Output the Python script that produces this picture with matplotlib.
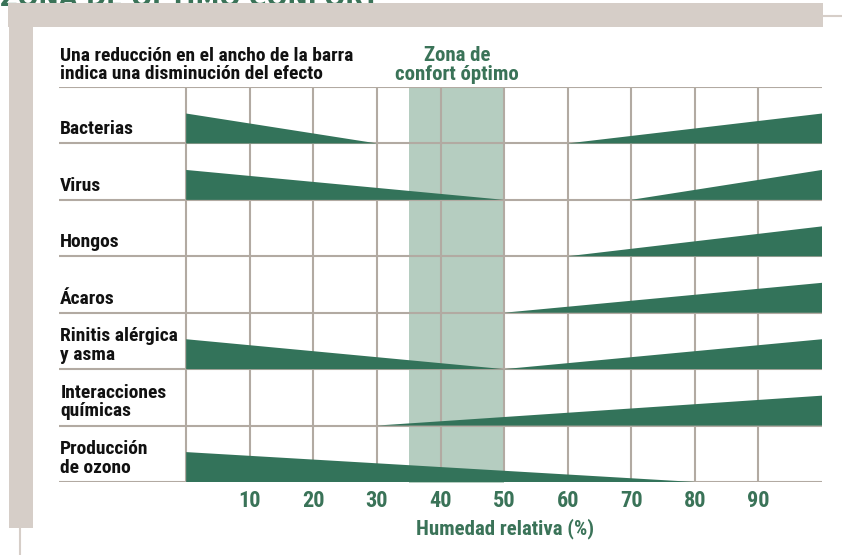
import matplotlib
matplotlib.use("Agg")
import matplotlib.pyplot as plt
from matplotlib.patches import Polygon, Rectangle

# ---------------- data ----------------
categories = ["Bacterias", "Virus", "Hongos", "Ácaros",
              "Rinitis alérgica\ny asma", "Interacciones\nquímicas",
              "Producción\nde ozono"]
# humidity where the "low humidity" effect fades out (effect starts at 0)
decrease_end = [30, 50, None, None, 50, None, 80]
# humidity where the "high humidity" effect starts (grows up to 100)
increase_start = [60, 70, 60, 50, 50, 30, None]
comfort_zone = (35, 50)
tick_values = [10, 20, 30, 40, 50, 60, 70, 80, 90]
tick_labels = ["10", "20", "30", "40", "50", "60", "70", "80", "90"]
title = "ZONA DE ÓPTIMO CONFORT"
note = "Una reducción en el ancho de la barra\nindica una disminución del efecto"
comfort_label = "Zona de\nconfort óptimo"
xlabel = "Humedad relativa (%)"

# ---------------- style ----------------
FAM = ["Roboto Condensed", "Archivo Narrow", "DejaVu Sans"]
WEIGHT = "bold"
FONT = dict(family=FAM, fontweight=WEIGHT)

DARK = "#33735a"
LIGHT = "#b5cdc0"
GRID = "#b2aaa2"
BAND = "#d6cec8"
TXT_GREEN = "#3a7358"

W, H = 842, 555
fig = plt.figure(figsize=(W / 100, H / 100), dpi=100)
fig.patch.set_facecolor("white")

def fx(px):
    return px / W

def fy(py):
    return 1 - py / H

# frame decoration (drawn over the clipped title)
fig.add_artist(Rectangle((fx(8), fy(27)), fx(823 - 8), 24 / H, transform=fig.transFigure,
                         facecolor=BAND, edgecolor="none", zorder=5))
fig.add_artist(Rectangle((fx(9), fy(528)), fx(24), (528 - 27) / H, transform=fig.transFigure,
                         facecolor=BAND, edgecolor="none", zorder=5))
fig.add_artist(plt.Line2D([fx(823), fx(842)], [fy(16), fy(16)], transform=fig.transFigure,
                          color=BAND, lw=1.5, zorder=5))
fig.add_artist(plt.Line2D([fx(20), fx(20)], [fy(528), fy(555)], transform=fig.transFigure,
                          color=BAND, lw=1.5, zorder=5))

# title (clipped at top, partly hidden by the band)
fig.text(fx(0), fy(6.5), title, color=TXT_GREEN, fontsize=17.5, fontweight="bold",
         ha="left", va="baseline", family=["DejaVu Sans"], zorder=1)

# main axes
x0, x1 = 59, 822
ytop, ybot = 87, 482
ax = fig.add_axes([fx(x0), fy(ybot), (x1 - x0) / W, (ybot - ytop) / H])
ax.set_xlim(-20, 100)
n = len(categories)
ax.set_ylim(n, 0)
for s in ax.spines.values():
    s.set_visible(False)
ax.set_yticks([])

# comfort zone
ax.add_patch(Rectangle((comfort_zone[0], 0), comfort_zone[1] - comfort_zone[0], n + 0.02,
                       facecolor=LIGHT, edgecolor="none", zorder=1, clip_on=False))

# grid
for v in [0] + tick_values:
    ax.plot([v, v], [0, n], color=GRID, lw=1.5, zorder=2, solid_capstyle="butt")
for r in range(n + 1):
    ax.plot([-20, 100], [r, r], color=GRID, lw=1.5, zorder=2, solid_capstyle="butt")

h = 0.53
for i, cat in enumerate(categories):
    base = i + 1
    if decrease_end[i] is not None:
        ax.add_patch(Polygon([(0, base), (0, base - h), (decrease_end[i], base)],
                             closed=True, facecolor=DARK, edgecolor="none", zorder=3))
    if increase_start[i] is not None:
        ax.add_patch(Polygon([(increase_start[i], base), (100, base - h), (100, base)],
                             closed=True, facecolor=DARK, edgecolor="none", zorder=3))
    ax.text(-19.8, base - 0.09, cat, ha="left", va="bottom", fontsize=14,
            color="#111111", linespacing=1.05, **FONT)

ax.set_xticks(tick_values)
ax.set_xticklabels(tick_labels)
ax.tick_params(axis="x", length=0, pad=6, labelsize=16, labelcolor=TXT_GREEN)
for t in ax.get_xticklabels():
    t.set_fontweight(WEIGHT)
    t.set_fontfamily(FAM)

# texts above
fig.text(fx(60), fy(79), note, ha="left", va="baseline", fontsize=14,
         color="#111111", linespacing=1.0, **FONT)
fig.text(fx(457), fy(80), comfort_label, ha="center", va="baseline", fontsize=15,
         color=TXT_GREEN, linespacing=1.0, multialignment="center", **FONT)
fig.text(fx(505), fy(534), xlabel, ha="center", va="baseline", fontsize=15,
         color=TXT_GREEN, **FONT)

fig.savefig("out.png", dpi=100)
